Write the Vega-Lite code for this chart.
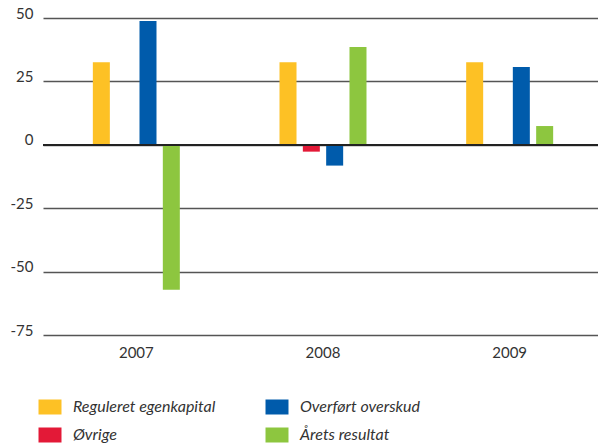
{
  "$schema": "https://vega.github.io/schema/vega-lite/v6.json",
  "width": 555,
  "height": 317,
  "autosize": {"type": "none"},
  "padding": {"left": 43, "top": 18, "right": 0, "bottom": 112},
  "config": {"view": {"stroke": null}, "font": "Lato"},
  "data": {"values": [
    {"year": "2007", "series": "Reguleret egenkapital", "value": 32.6},
    {"year": "2007", "series": "Overført overskud", "value": 48.8},
    {"year": "2007", "series": "Årets resultat", "value": -57.2},
    {"year": "2008", "series": "Reguleret egenkapital", "value": 32.6},
    {"year": "2008", "series": "Øvrige", "value": -2.7},
    {"year": "2008", "series": "Overført overskud", "value": -8.2},
    {"year": "2008", "series": "Årets resultat", "value": 38.6},
    {"year": "2009", "series": "Reguleret egenkapital", "value": 32.6},
    {"year": "2009", "series": "Overført overskud", "value": 30.7},
    {"year": "2009", "series": "Årets resultat", "value": 7.4}
  ]},
  "layer": [
    {
      "mark": {"type": "bar"},
      "encoding": {
        "x": {
          "field": "year", "type": "nominal",
          "scale": {"range": [0, 560], "paddingInner": 0.534, "paddingOuter": 0.267},
          "axis": {"title": null, "domain": false, "ticks": false, "labelAngle": 0, "labelFontSize": 15, "labelColor": "#333", "labelPadding": 10}
        },
        "xOffset": {
          "field": "series",
          "scale": {"domain": ["Reguleret egenkapital", "Øvrige", "Overført overskud", "Årets resultat"], "paddingInner": 0.271, "paddingOuter": 0}
        },
        "y": {
          "field": "value", "type": "quantitative",
          "scale": {"domain": [-75, 50], "nice": false, "zero": false},
          "axis": {"title": null, "values": [-75, -50, -25, 0, 25, 50], "domain": false, "ticks": false, "grid": true, "gridColor": "#555", "gridWidth": 1.3, "labelFontSize": 15, "labelColor": "#333", "labelPadding": 10, "labelBaseline": "alphabetic", "labelExpr": "'' + datum.value"}
        },
        "color": {
          "field": "series", "type": "nominal",
          "scale": {"domain": ["Reguleret egenkapital", "Overført overskud", "Øvrige", "Årets resultat"], "range": ["#FDC125", "#005BAB", "#E31937", "#8DC63F"]},
          "legend": {"title": null, "orient": "none", "legendX": -1, "legendY": 381, "columns": 2, "direction": "horizontal", "padding": 0, "columnPadding": 49, "rowPadding": 12, "symbolType": "M-1.533,-1H1.533V1H-1.533Z", "symbolSize": 225, "symbolStrokeWidth": 0, "symbolOpacity": 1, "labelOffset": 15, "labelFontSize": 16, "labelFontStyle": "italic", "labelColor": "#333", "labelLimit": 300}
        }
      }
    },
    {
      "mark": {"type": "rule", "color": "#222", "strokeWidth": 1.5},
      "encoding": {"y": {"datum": 0}}
    }
  ]
}
